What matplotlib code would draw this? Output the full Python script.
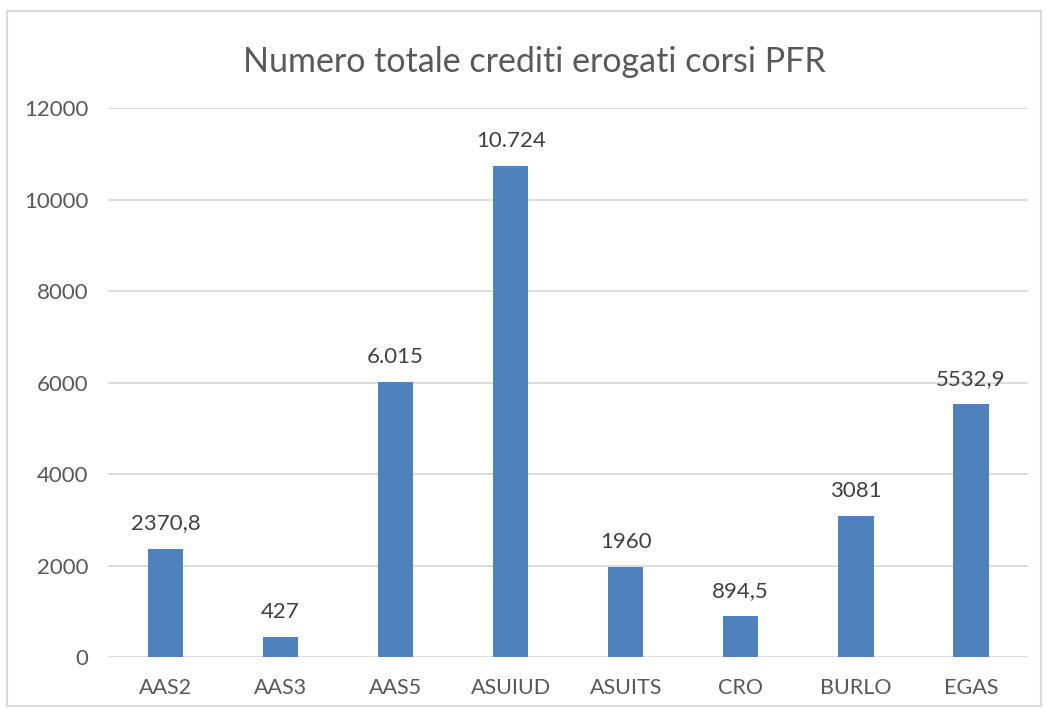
import matplotlib
matplotlib.use('Agg')
import matplotlib.pyplot as plt
from matplotlib.patches import Rectangle

# dati del grafico
categorie = ['AAS2', 'AAS3', 'AAS5', 'ASUIUD', 'ASUITS', 'CRO', 'BURLO', 'EGAS']
crediti = [2370.8, 427, 6015, 10724, 1960, 894.5, 3081, 5532.9]
etichette = ['2370,8', '427', '6.015', '10.724', '1960', '894,5', '3081', '5532,9']
yticks = [0, 2000, 4000, 6000, 8000, 10000, 12000]

BLU = '#4F81BD'
GRIGIO_TESTO = '#595959'
GRIGIO_GRIGLIA = '#D9D9D9'

plt.rcParams['font.family'] = ['Lato', 'DejaVu Sans']

fig = plt.figure(figsize=(10.46, 7.13), dpi=100)
ax = fig.add_axes([0.1033, 0.0785, 0.8797, 0.77])

x = list(range(len(categorie)))
ax.bar(x, crediti, width=0.31, color=BLU, zorder=3)

for xi, val, lab in zip(x, crediti, etichette):
    ax.annotate(lab, (xi, val), xytext=(0, 11), textcoords='offset points',
                ha='center', va='bottom', fontsize=16, color='#404040')

ax.set_xlim(-0.5, len(categorie) - 0.5)
ax.set_ylim(0, 12000)
ax.set_yticks(yticks)
ax.set_yticklabels([str(t) for t in yticks], fontsize=16, color=GRIGIO_TESTO)
ax.set_xticks(x)
ax.set_xticklabels(categorie, fontsize=15.5, color=GRIGIO_TESTO)
ax.tick_params(axis='x', length=0, pad=15)
ax.tick_params(axis='y', length=0, pad=14)

ax.grid(True, axis='y', color=GRIGIO_GRIGLIA, linewidth=1.3, zorder=0)
for s in ax.spines.values():
    s.set_visible(False)

fig.text(0.511, 0.913, 'Numero totale crediti erogati corsi PFR', ha='center', va='center',
         fontsize=24.5, color=GRIGIO_TESTO)

# cornice del grafico
fig.patches.append(Rectangle((0.007, 0.01), 0.988, 0.975, transform=fig.transFigure,
                             fill=False, edgecolor=GRIGIO_GRIGLIA, linewidth=1.5))

fig.savefig('out.png', dpi=100)
